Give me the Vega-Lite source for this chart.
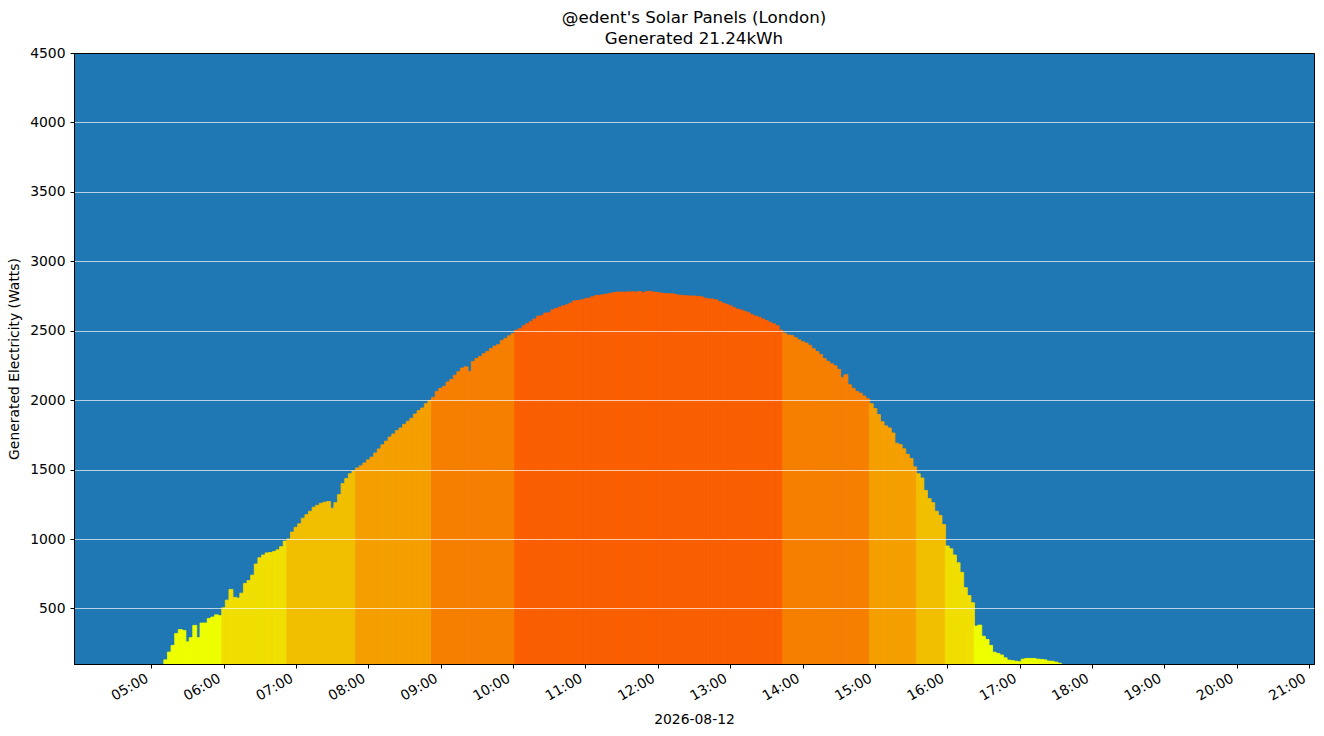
{
  "$schema": "https://vega.github.io/schema/vega-lite/v6.json",
  "width": 1240,
  "height": 611,
  "autosize": {"type": "none"},
  "padding": {"left": 74, "top": 53, "right": 10, "bottom": 72},
  "background": "white",
  "config": {
    "font": "DejaVu Sans",
    "view": {"fill": "#1f77b4", "stroke": "black", "strokeWidth": 1},
    "axis": {
      "labelFont": "DejaVu Sans", "labelFontSize": 13.9, "labelColor": "black",
      "titleFont": "DejaVu Sans", "titleFontSize": 13.9, "titleFontWeight": "normal", "titleColor": "black",
      "domainColor": "black", "domainWidth": 1, "tickColor": "black", "tickWidth": 1, "tickSize": 4
    }
  },
  "title": {
    "text": ["@edent's Solar Panels (London)", "Generated 21.24kWh"],
    "font": "DejaVu Sans", "fontSize": 16.7, "fontWeight": "normal", "color": "black",
    "lineHeight": 21, "offset": -2
  },
  "data": {
    "format": {"parse": {"t": "date:'%H:%M'"}},
    "values": [
      {"t": "05:12", "w": 130}, {"t": "05:15", "w": 186}, {"t": "05:18", "w": 234}, {"t": "05:21", "w": 320},
      {"t": "05:24", "w": 348}, {"t": "05:27", "w": 342}, {"t": "05:30", "w": 260}, {"t": "05:33", "w": 290},
      {"t": "05:36", "w": 378}, {"t": "05:39", "w": 290}, {"t": "05:42", "w": 395}, {"t": "05:45", "w": 395},
      {"t": "05:48", "w": 428}, {"t": "05:51", "w": 438}, {"t": "05:54", "w": 454}, {"t": "05:57", "w": 448},
      {"t": "06:00", "w": 505}, {"t": "06:03", "w": 560}, {"t": "06:06", "w": 637}, {"t": "06:09", "w": 580},
      {"t": "06:12", "w": 575}, {"t": "06:15", "w": 610}, {"t": "06:18", "w": 680}, {"t": "06:21", "w": 701},
      {"t": "06:24", "w": 740}, {"t": "06:27", "w": 820}, {"t": "06:30", "w": 865}, {"t": "06:33", "w": 885},
      {"t": "06:36", "w": 900}, {"t": "06:39", "w": 903}, {"t": "06:42", "w": 910}, {"t": "06:45", "w": 922},
      {"t": "06:48", "w": 945}, {"t": "06:51", "w": 985}, {"t": "06:54", "w": 1001}, {"t": "06:57", "w": 1050},
      {"t": "07:00", "w": 1085}, {"t": "07:03", "w": 1110}, {"t": "07:06", "w": 1150}, {"t": "07:09", "w": 1176},
      {"t": "07:12", "w": 1200}, {"t": "07:15", "w": 1229}, {"t": "07:18", "w": 1243}, {"t": "07:21", "w": 1258},
      {"t": "07:24", "w": 1265}, {"t": "07:27", "w": 1270}, {"t": "07:30", "w": 1222}, {"t": "07:33", "w": 1262},
      {"t": "07:36", "w": 1320}, {"t": "07:39", "w": 1400}, {"t": "07:42", "w": 1435}, {"t": "07:45", "w": 1470},
      {"t": "07:48", "w": 1490}, {"t": "07:51", "w": 1512}, {"t": "07:54", "w": 1527}, {"t": "07:57", "w": 1548},
      {"t": "08:00", "w": 1570}, {"t": "08:03", "w": 1590}, {"t": "08:06", "w": 1620}, {"t": "08:09", "w": 1649},
      {"t": "08:12", "w": 1678}, {"t": "08:15", "w": 1705}, {"t": "08:18", "w": 1735}, {"t": "08:21", "w": 1757},
      {"t": "08:24", "w": 1782}, {"t": "08:27", "w": 1800}, {"t": "08:30", "w": 1826}, {"t": "08:33", "w": 1848},
      {"t": "08:36", "w": 1870}, {"t": "08:39", "w": 1900}, {"t": "08:42", "w": 1925}, {"t": "08:45", "w": 1944},
      {"t": "08:48", "w": 1975}, {"t": "08:51", "w": 1998}, {"t": "08:54", "w": 2020}, {"t": "08:57", "w": 2063},
      {"t": "09:00", "w": 2085}, {"t": "09:03", "w": 2100}, {"t": "09:06", "w": 2130}, {"t": "09:09", "w": 2150},
      {"t": "09:12", "w": 2180}, {"t": "09:15", "w": 2205}, {"t": "09:18", "w": 2231}, {"t": "09:21", "w": 2240},
      {"t": "09:24", "w": 2207}, {"t": "09:27", "w": 2279}, {"t": "09:30", "w": 2300}, {"t": "09:33", "w": 2315},
      {"t": "09:36", "w": 2335}, {"t": "09:39", "w": 2351}, {"t": "09:42", "w": 2372}, {"t": "09:45", "w": 2390},
      {"t": "09:48", "w": 2400}, {"t": "09:51", "w": 2430}, {"t": "09:54", "w": 2445}, {"t": "09:57", "w": 2464},
      {"t": "10:00", "w": 2480}, {"t": "10:03", "w": 2505}, {"t": "10:06", "w": 2515}, {"t": "10:09", "w": 2536},
      {"t": "10:12", "w": 2550}, {"t": "10:15", "w": 2567}, {"t": "10:18", "w": 2585}, {"t": "10:21", "w": 2605},
      {"t": "10:24", "w": 2610}, {"t": "10:27", "w": 2627}, {"t": "10:30", "w": 2630}, {"t": "10:33", "w": 2651},
      {"t": "10:36", "w": 2660}, {"t": "10:39", "w": 2670}, {"t": "10:42", "w": 2680}, {"t": "10:45", "w": 2687},
      {"t": "10:48", "w": 2700}, {"t": "10:51", "w": 2715}, {"t": "10:54", "w": 2718}, {"t": "10:57", "w": 2722},
      {"t": "11:00", "w": 2730}, {"t": "11:03", "w": 2735}, {"t": "11:06", "w": 2745}, {"t": "11:09", "w": 2754},
      {"t": "11:12", "w": 2755}, {"t": "11:15", "w": 2760}, {"t": "11:18", "w": 2764}, {"t": "11:21", "w": 2770},
      {"t": "11:24", "w": 2775}, {"t": "11:27", "w": 2778}, {"t": "11:30", "w": 2778}, {"t": "11:33", "w": 2778},
      {"t": "11:36", "w": 2780}, {"t": "11:39", "w": 2780}, {"t": "11:42", "w": 2778}, {"t": "11:45", "w": 2782},
      {"t": "11:48", "w": 2775}, {"t": "11:51", "w": 2783}, {"t": "11:54", "w": 2783}, {"t": "11:57", "w": 2778},
      {"t": "12:00", "w": 2776}, {"t": "12:03", "w": 2771}, {"t": "12:06", "w": 2768}, {"t": "12:09", "w": 2766},
      {"t": "12:12", "w": 2766}, {"t": "12:15", "w": 2760}, {"t": "12:18", "w": 2756}, {"t": "12:21", "w": 2754},
      {"t": "12:24", "w": 2752}, {"t": "12:27", "w": 2750}, {"t": "12:30", "w": 2750}, {"t": "12:33", "w": 2748},
      {"t": "12:36", "w": 2745}, {"t": "12:39", "w": 2735}, {"t": "12:42", "w": 2730}, {"t": "12:45", "w": 2728},
      {"t": "12:48", "w": 2723}, {"t": "12:51", "w": 2710}, {"t": "12:54", "w": 2699}, {"t": "12:57", "w": 2690},
      {"t": "13:00", "w": 2680}, {"t": "13:03", "w": 2668}, {"t": "13:06", "w": 2656}, {"t": "13:09", "w": 2650},
      {"t": "13:12", "w": 2640}, {"t": "13:15", "w": 2630}, {"t": "13:18", "w": 2615}, {"t": "13:21", "w": 2606},
      {"t": "13:24", "w": 2598}, {"t": "13:27", "w": 2585}, {"t": "13:30", "w": 2574}, {"t": "13:33", "w": 2560},
      {"t": "13:36", "w": 2550}, {"t": "13:39", "w": 2535}, {"t": "13:42", "w": 2505}, {"t": "13:45", "w": 2483},
      {"t": "13:48", "w": 2470}, {"t": "13:51", "w": 2466}, {"t": "13:54", "w": 2450}, {"t": "13:57", "w": 2435},
      {"t": "14:00", "w": 2420}, {"t": "14:03", "w": 2411}, {"t": "14:06", "w": 2395}, {"t": "14:09", "w": 2370},
      {"t": "14:12", "w": 2350}, {"t": "14:15", "w": 2328}, {"t": "14:18", "w": 2300}, {"t": "14:21", "w": 2280},
      {"t": "14:24", "w": 2262}, {"t": "14:27", "w": 2248}, {"t": "14:30", "w": 2222}, {"t": "14:33", "w": 2164},
      {"t": "14:36", "w": 2183}, {"t": "14:39", "w": 2111}, {"t": "14:42", "w": 2085}, {"t": "14:45", "w": 2063},
      {"t": "14:48", "w": 2050}, {"t": "14:51", "w": 2030}, {"t": "14:54", "w": 2010}, {"t": "14:57", "w": 1975},
      {"t": "15:00", "w": 1940}, {"t": "15:03", "w": 1896}, {"t": "15:06", "w": 1845}, {"t": "15:09", "w": 1815},
      {"t": "15:12", "w": 1800}, {"t": "15:15", "w": 1764}, {"t": "15:18", "w": 1690}, {"t": "15:21", "w": 1680},
      {"t": "15:24", "w": 1650}, {"t": "15:27", "w": 1610}, {"t": "15:30", "w": 1580}, {"t": "15:33", "w": 1520},
      {"t": "15:36", "w": 1470}, {"t": "15:39", "w": 1440}, {"t": "15:42", "w": 1350}, {"t": "15:45", "w": 1291},
      {"t": "15:48", "w": 1262}, {"t": "15:51", "w": 1200}, {"t": "15:54", "w": 1170}, {"t": "15:57", "w": 1104},
      {"t": "16:00", "w": 950}, {"t": "16:03", "w": 930}, {"t": "16:06", "w": 885}, {"t": "16:09", "w": 829},
      {"t": "16:12", "w": 760}, {"t": "16:15", "w": 650}, {"t": "16:18", "w": 593}, {"t": "16:21", "w": 541},
      {"t": "16:24", "w": 373}, {"t": "16:27", "w": 380}, {"t": "16:30", "w": 300}, {"t": "16:33", "w": 277},
      {"t": "16:36", "w": 234}, {"t": "16:39", "w": 185}, {"t": "16:42", "w": 176}, {"t": "16:45", "w": 165},
      {"t": "16:48", "w": 145}, {"t": "16:51", "w": 128}, {"t": "16:54", "w": 124}, {"t": "16:57", "w": 120},
      {"t": "17:00", "w": 116}, {"t": "17:03", "w": 135}, {"t": "17:06", "w": 140}, {"t": "17:09", "w": 140},
      {"t": "17:12", "w": 140}, {"t": "17:15", "w": 135}, {"t": "17:18", "w": 133}, {"t": "17:21", "w": 130},
      {"t": "17:24", "w": 121}, {"t": "17:27", "w": 120}, {"t": "17:30", "w": 114}, {"t": "17:33", "w": 106}
    ]
  },
  "mark": {"type": "bar", "width": 4, "clip": true, "strokeWidth": 0.8},
  "encoding": {
    "x": {
      "field": "t", "type": "temporal", "title": "2026-08-12",
      "scale": {"domain": [
        {"year": 1900, "month": 1, "date": 1, "hours": 4},
        {"year": 1900, "month": 1, "date": 1, "hours": 21}
      ]},
      "axis": {
        "format": "%H:%M", "grid": false, "zindex": 1,
        "values": [
          {"year": 1900, "month": 1, "date": 1, "hours": 5}, {"year": 1900, "month": 1, "date": 1, "hours": 6},
          {"year": 1900, "month": 1, "date": 1, "hours": 7}, {"year": 1900, "month": 1, "date": 1, "hours": 8},
          {"year": 1900, "month": 1, "date": 1, "hours": 9}, {"year": 1900, "month": 1, "date": 1, "hours": 10},
          {"year": 1900, "month": 1, "date": 1, "hours": 11}, {"year": 1900, "month": 1, "date": 1, "hours": 12},
          {"year": 1900, "month": 1, "date": 1, "hours": 13}, {"year": 1900, "month": 1, "date": 1, "hours": 14},
          {"year": 1900, "month": 1, "date": 1, "hours": 15}, {"year": 1900, "month": 1, "date": 1, "hours": 16},
          {"year": 1900, "month": 1, "date": 1, "hours": 17}, {"year": 1900, "month": 1, "date": 1, "hours": 18},
          {"year": 1900, "month": 1, "date": 1, "hours": 19}, {"year": 1900, "month": 1, "date": 1, "hours": 20},
          {"year": 1900, "month": 1, "date": 1, "hours": 21}
        ],
        "labelAngle": -30, "labelAlign": "right", "labelBaseline": "top",
        "labelPadding": 3, "labelOffset": -8, "labelOverlap": false, "labelFlush": false, "titlePadding": 9
      }
    },
    "y": {
      "field": "w", "type": "quantitative", "title": "Generated Electricity (Watts)",
      "scale": {"domain": [100, 4500], "nice": false, "zero": false},
      "axis": {
        "format": "d",
        "values": [500, 1000, 1500, 2000, 2500, 3000, 3500, 4000, 4500],
        "grid": true, "gridColor": "white", "gridWidth": 0.8,
        "gridOpacity": {"condition": {"test": "datum.value >= 4500", "value": 0}, "value": 0.85},
        "zindex": 1, "labelPadding": 5, "titlePadding": 8
      }
    },
    "color": {
      "field": "w", "type": "quantitative", "legend": null,
      "scale": {
        "type": "threshold",
        "domain": [500, 1000, 1500, 2000, 2500],
        "range": ["#eeff00", "#f0df00", "#f2bf00", "#f59f00", "#f77f00", "#fa5f00"]
      }
    },
    "stroke": {
      "field": "w", "type": "quantitative", "legend": null,
      "scale": {
        "type": "threshold",
        "domain": [500, 1000, 1500, 2000, 2500],
        "range": ["#eeff00", "#f0df00", "#f2bf00", "#f59f00", "#f77f00", "#fa5f00"]
      }
    }
  }
}
